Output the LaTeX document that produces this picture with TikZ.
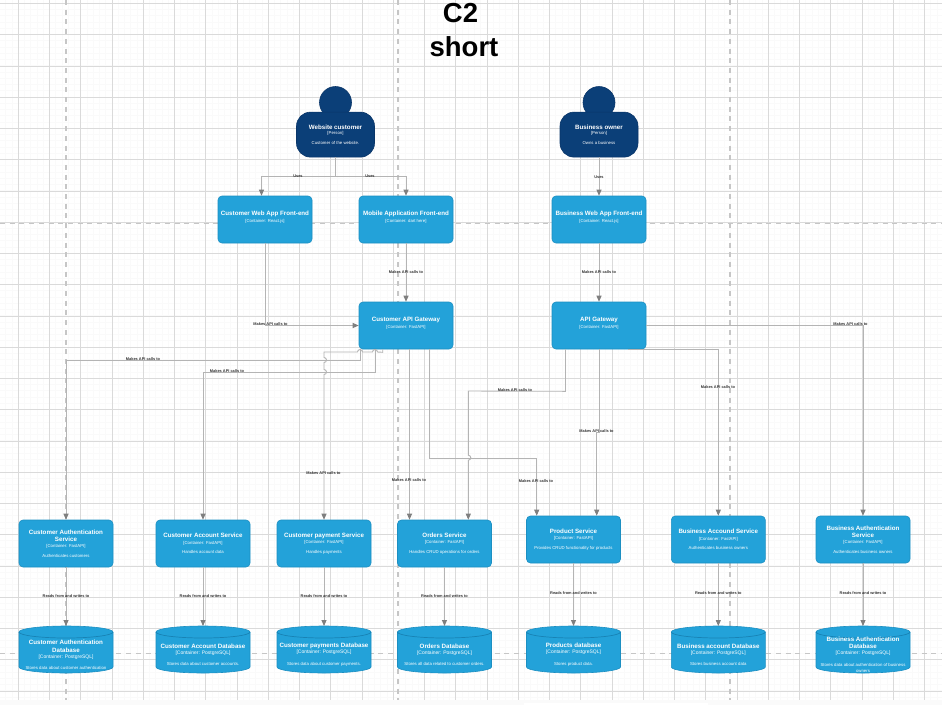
\documentclass[tikz,border=0pt]{standalone}
\usepackage{fontspec}
\setmainfont{Liberation Sans}
\usetikzlibrary{arrows.meta}
\definecolor{boxfill}{HTML}{23A2D9}
\definecolor{boxline}{HTML}{1C8FC2}
\definecolor{rimline}{HTML}{1883B5}
\definecolor{personfill}{HTML}{0B3F78}
\definecolor{personline}{HTML}{0A3669}
\definecolor{gridmajor}{HTML}{DADADA}
\definecolor{gridminor}{HTML}{FAFAFA}
\definecolor{pagedash}{HTML}{C6C6C6}
\definecolor{conn}{HTML}{B4B4B4}
\definecolor{tipc}{HTML}{7F7F7F}
\definecolor{lblc}{HTML}{333333}
\newcommand{\boxtext}[4][6.6]{\fontsize{6.2}{7.6}\selectfont\bfseries #2\par\fontsize{4.3}{#1}\selectfont\mdseries #3\par\fontsize{4.3}{9.8}\selectfont #4\par}
\newcommand{\boxhead}[2]{\fontsize{6.2}{7.6}\selectfont\bfseries #1\par\fontsize{4.3}{6.4}\selectfont\mdseries #2\rule[-5.2pt]{0pt}{5.2pt}\par}
\newcommand{\dbtext}[3]{\fontsize{6.2}{7.4}\selectfont\bfseries #1\par\fontsize{5}{6}\selectfont\mdseries #2\par\fontsize{4.3}{11.5}\selectfont #3\par}
\newcommand{\dbnode}[4]{%
  \node[dbframe] (#1) at (#2,649.5) {};
  \draw[dbshape] ([yshift=-6pt]#1.north west) arc[x radius=47pt,y radius=6pt,start angle=180,end angle=0]
    -- ([yshift=6pt]#1.south east) arc[x radius=47pt,y radius=6pt,start angle=360,end angle=180] -- cycle;
  \draw[dbrim] ([yshift=-6pt]#1.north west) arc[x radius=47pt,y radius=6pt,start angle=180,end angle=360];
  \node[dbcaption] (#1t) at (#2,#3) {#4};
}
\tikzset{
  x=1pt,y=-1pt,
  svc/.style={rectangle,rounded corners=4pt,fill=boxfill,draw=boxline,line width=.6pt,minimum width=94pt,minimum height=47pt,inner sep=1pt,text width=90pt,align=flush center,text=white},
  dbframe/.style={rectangle,minimum width=94pt,minimum height=47pt,inner sep=0pt,outer sep=0pt},
  dbshape/.style={fill=boxfill,draw=boxline,line width=.6pt},
  dbrim/.style={draw=rimline,line width=.7pt},
  dbcaption/.style={inner sep=0pt,text width=92pt,align=flush center,text=white},
  body/.style={rectangle,rounded corners=14pt,fill=personfill,draw=personline,line width=.6pt,minimum width=78pt,minimum height=45pt,inner sep=1pt,text width=74pt,align=flush center,text=white},
  head/.style={circle,fill=personfill,draw=personline,line width=.6pt,minimum size=32pt,inner sep=0pt},
  link/.style={draw=conn,line width=.9pt,-{Triangle[width=5pt,length=6pt,color=tipc]}},
  lbl/.style={font=\fontsize{3.9}{5}\selectfont\bfseries,text=lblc,inner sep=0pt},
  pagedashes/.style={draw=pagedash,line width=1.6pt,dash pattern=on 5pt off 4.7pt},
  headline/.style={font=\fontsize{27.5}{33}\selectfont\bfseries,text=black,inner sep=0pt}
}
\begin{document}
\begin{tikzpicture}
\useasboundingbox (0,0) rectangle (942,705);
\fill[white] (0,0) rectangle (942,705);
% grid
\foreach \i in {0,...,151}{
  \pgfmathsetmacro{\gx}{-0.45+6.25*\i}
  \draw[gridminor,line width=1pt] (\gx,0) -- (\gx,700);
}
\foreach \i in {0,...,112}{
  \pgfmathsetmacro{\gy}{3.45+6.25*\i-6.25}
  \draw[gridminor,line width=1pt] (0,\gy) -- (942,\gy);
}
\foreach \i in {0,...,29}{
  \pgfmathsetmacro{\gx}{18.3+31.25*\i}
  \draw[gridmajor,line width=.9pt] (\gx,0) -- (\gx,700);
}
\foreach \i in {0,...,22}{
  \pgfmathsetmacro{\gy}{3.45+31.25*\i}
  \draw[gridmajor,line width=.9pt] (0,\gy) -- (942,\gy);
}
\fill[gridminor] (0,700) rectangle (942,705);
\fill[white] (524,703) rectangle (708,705);
% page break lines
\draw[pagedashes] (66,0) -- (66,700);
\draw[pagedashes] (398,0) -- (398,700);
\draw[pagedashes] (730,0) -- (730,700);
\draw[pagedashes] (0,223.3) -- (942,223.3);
\draw[pagedashes] (0,653.5) -- (942,653.5);
% title
\node[headline] (titleA) at (460.5,13) {C2};
\node[headline] (titleB) at (464,47) {short};
% people
\node[head] (webhead) at (335.5,102.5) {};
\node[body] (webcust) at (335.5,134.6) {\boxtext[5.6]{Website customer}{[Person]}{Customer of the website.}};
\node[head] (ownhead) at (599,102.5) {};
\node[body] (owner) at (599,134.6) {\boxtext[5.6]{Business owner}{[Person]}{Owns a business}};
% front ends
\node[svc] (cwa) at (265,219.5) {\boxhead{Customer Web App Front-end}{[Container: React.js]}};
\node[svc] (mobile) at (406,219.5) {\boxhead{Mobile Application Front-end}{[Container: dart here]}};
\node[svc] (bwa) at (599,219.5) {\boxhead{Business Web App Front-end}{[Container: React.js]}};
% gateways
\node[svc] (custgw) at (406,325.5) {\boxhead{Customer API Gateway}{[Container: FastAPI]}};
\node[svc] (apigw) at (599,325.5) {\boxhead{API Gateway}{[Container: FastAPI]}};
% services
\node[svc] (custauth) at (66,543.5) {\boxtext[5.6]{Customer Authentication\\ Service}{[Container: FastAPI]}{Authenticates customers}};
\node[svc] (custacc) at (203,543.5) {\boxtext{Customer Account Service}{[Container: FastAPI]}{Handles account data}};
\node[svc] (custpay) at (324,543.5) {\boxtext{Customer payment Service}{[Container: FastAPI]}{Handles payments}};
\node[svc] (orders) at (444.5,543.5) {\boxtext{Orders Service}{[Container: FastAPI]}{Handles CRUD operations for orders}};
\node[svc] (product) at (573.5,539.5) {\boxtext{Product Service}{[Container: FastAPI]}{Provides CRUD functionality for products}};
\node[svc] (bizacc) at (718.3,539.5) {\boxtext{Business Accound Service}{[Container: FastAPI]}{Authenticates business owners}};
\node[svc] (bizauth) at (863,539.5) {\boxtext[5.6]{Business Authentication\\ Service}{[Container: FastAPI]}{Authenticates business owners}};
% databases
\dbnode{custauthdb}{66}{655.2}{\dbtext{Customer Authentication\\ Database}{[Container: PostgreSQL]}{Stores data about customer authentication}}
\dbnode{custaccdb}{203}{654.8}{\dbtext{Customer Account Database}{[Container: PostgreSQL]}{Stores data about customer accounts.}}
\dbnode{custpaydb}{324}{654.8}{\dbtext{Customer payments Database}{[Container: PostgreSQL]}{Stores data about customer payments.}}
\dbnode{ordersdb}{444.5}{654.8}{\dbtext{Orders Database}{[Container: PostgreSQL]}{Stores all data related to customer orders.}}
\dbnode{productdb}{573.5}{654.8}{\dbtext{Products database}{[Container: PostgreSQL]}{Stores product data.}}
\dbnode{bizaccdb}{718.3}{654.8}{\dbtext{Business account Database}{[Container: PostgreSQL]}{Stores business account data}}
\dbnode{bizauthdb}{863}{654.8}{\dbtext{Business Authentication\\ Database}{[Container: PostgreSQL]}{Stores data about authentication of business\par\fontsize{4.3}{6}\selectfont owners}}
% connectors: people to front ends
\draw[link] (webcust.south) -- ++(0,19) -| ([xshift=-3.5pt]cwa.north);
\draw[link] (webcust.south) -- ++(0,19) -| (mobile.north);
\draw[link] (owner.south) -- (bwa.north);
% front ends to gateways
\draw[link] (cwa.south) |- (custgw.west);
\draw[link] (mobile.south) -- (custgw.north);
\draw[link] (bwa.south) -- (apigw.north);
% customer gateway to services
\draw[link] ([xshift=-46pt]custgw.south) -- ++(0,11) -| (custauth.north);
\draw[link] ([xshift=-31pt]custgw.south) -- ++(0,23) -| (custacc.north);
\draw[link] ([xshift=-23.3pt]custgw.south) -- ++(0,3) -- (377.5,352) arc[start angle=0,end angle=180,radius=2.5pt]
  -- (362.5,352) arc[start angle=0,end angle=180,radius=2.5pt] -- (324,352)
  -- (324,357.5) arc[start angle=90,end angle=-90,radius=2.5pt]
  -- (324,369.5) arc[start angle=90,end angle=-90,radius=2.5pt] -- (custpay.north);
\draw[link] ([xshift=3.5pt]custgw.south) -- ([xshift=-35pt]orders.north);
\draw[link] ([xshift=23.3pt]custgw.south) -- ++(0,109) -| ([xshift=-36.8pt]product.north);
% API gateway to services
\draw[link] ([xshift=-33.5pt]apigw.south) -- ++(0,42) -- (468.3,391) -- (468.3,455.2) arc[start angle=90,end angle=-90,radius=2.5pt] -- ([xshift=23.8pt]orders.north);
\draw[link] (apigw.south) -- ++(0,83) -| ([xshift=23.2pt]product.north);
\draw[link] ([xshift=29pt,yshift=-.5pt]apigw.south) -| (bizacc.north);
\draw[link] (apigw.east) -| (bizauth.north);
% services to databases
\draw[link] (custauth.south) -- (custauthdb.north);
\draw[link] (custacc.south) -- (custaccdb.north);
\draw[link] (custpay.south) -- (custpaydb.north);
\draw[link] (orders.south) -- (ordersdb.north);
\draw[link] (product.south) -- (productdb.north);
\draw[link] (bizacc.south) -- (bizaccdb.north);
\draw[link] (bizauth.south) -- (bizauthdb.north);
% connector labels
\node[lbl] (u1) at (298,176) {Uses};
\node[lbl] (u2) at (370,176) {Uses};
\node[lbl] (u3) at (599,177) {Uses};
\node[lbl] (m1) at (270.5,324.5) {Makes API calls to};
\node[lbl] (m2) at (406,272) {Makes API calls to};
\node[lbl] (m3) at (599,272) {Makes API calls to};
\node[lbl] (m4) at (143,359.5) {Makes API calls to};
\node[lbl] (m5) at (227,371.5) {Makes API calls to};
\node[lbl] (m6) at (323.5,473.5) {Makes API calls to};
\node[lbl] (m7) at (409,480.5) {Makes API calls to};
\node[lbl] (m8) at (515,390.5) {Makes API calls to};
\node[lbl] (m9) at (536,481.5) {Makes API calls to};
\node[lbl] (m10) at (596.5,431.5) {Makes API calls to};
\node[lbl] (m11) at (718,387) {Makes API calls to};
\node[lbl] (m12) at (850.5,324) {Makes API calls to};
\node[lbl] (r1) at (66,596.5) {Reads from and writes to};
\node[lbl] (r2) at (203,596.5) {Reads from and writes to};
\node[lbl] (r3) at (324,596.5) {Reads from and writes to};
\node[lbl] (r4) at (444.5,596.5) {Reads from and writes to};
\node[lbl] (r5) at (573.5,593.5) {Reads from and writes to};
\node[lbl] (r6) at (718.3,593.5) {Reads from and writes to};
\node[lbl] (r7) at (863,593.5) {Reads from and writes to};
\end{tikzpicture}
\end{document}
